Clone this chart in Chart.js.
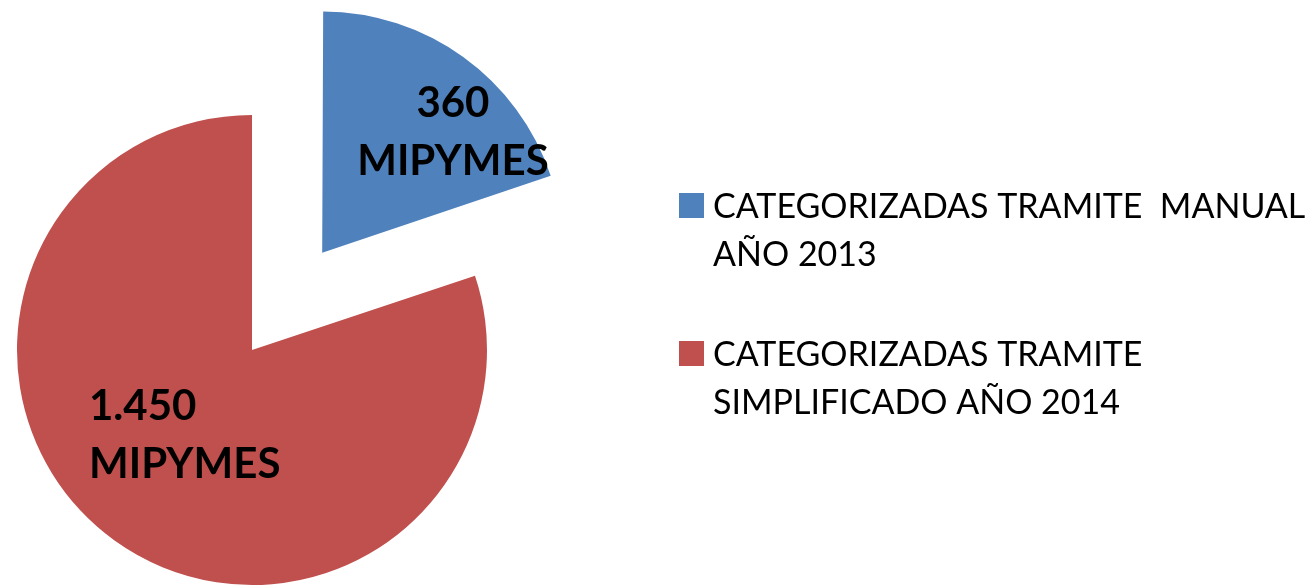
<!DOCTYPE html>
<html>
<head>
<meta charset="utf-8">
<script src="https://cdn.jsdelivr.net/npm/chart.js@4.4.1/dist/chart.umd.min.js"></script>
<style>
  html, body { margin: 0; padding: 0; background: #ffffff; overflow: hidden; width: 1308px; height: 587px; }
  #wrap { position: absolute; left: 0; top: 0; width: 1308px; height: 700px; }
</style>
</head>
<body>
<div id="wrap"><canvas id="c" width="1308" height="700"></canvas></div>
<script>
// ---- data ----
const categories = [
  ["CATEGORIZADAS TRAMITE  MANUAL", "AÑO 2013"],
  ["CATEGORIZADAS TRAMITE", "SIMPLIFICADO AÑO 2014"]
];
const values = [360, 1450];
const unitLabel = "MIPYMES";
const sliceColors = ["#4F81BD", "#C0504D"];

// ---- style / layout ----
const FONT = "Lato, 'Open Sans', sans-serif";
const labelPlacement = [
  { angleDeg: -42.7, distFrac: 0.757, align: "center" },
  { angleDeg: 152.5, distFrac: 0.782, align: "left" }
];

function fmtThousands(v) {
  return String(v).replace(/\B(?=(\d{3})+(?!\d))/g, ".");
}

const dataLabelPlugin = {
  id: "dataLabels",
  afterDatasetsDraw(chart) {
    const ctx = chart.ctx;
    const meta = chart.getDatasetMeta(0);
    const ds = chart.data.datasets[0];
    ctx.save();
    ctx.fillStyle = "#000000";
    ctx.font = "bold 42px " + FONT;
    ctx.textBaseline = "alphabetic";
    meta.data.forEach((arc, i) => {
      const p = arc.getProps(["x", "y", "startAngle", "endAngle", "outerRadius"], true);
      const half = (p.startAngle + p.endAngle) / 2;
      const off = (ds.offset[i] || 0) / 4;
      const cx = p.x + Math.cos(half) * off;
      const cy = p.y + Math.sin(half) * off;
      const pl = labelPlacement[i];
      const a = pl.angleDeg * Math.PI / 180;
      const px = cx + Math.cos(a) * pl.distFrac * p.outerRadius;
      const py = cy + Math.sin(a) * pl.distFrac * p.outerRadius;
      const lines = [fmtThousands(ds.data[i]), unitLabel];
      ctx.textAlign = pl.align;
      ctx.fillText(lines[0], px, py - 15);
      ctx.fillText(lines[1], px, py + 43);
    });
    ctx.restore();
  }
};

const legendPlugin = {
  id: "sideLegend",
  afterDraw(chart) {
    const ctx = chart.ctx;
    const ds = chart.data.datasets[0];
    const x0 = 679, y0 = 193, box = 25, itemGap = 148, lineH = 48, textDx = 34;
    ctx.save();
    ctx.font = "34px " + FONT;
    ctx.textAlign = "left";
    ctx.textBaseline = "alphabetic";
    chart.data.labels.forEach((lab, i) => {
      const top = y0 + i * itemGap;
      ctx.fillStyle = ds.backgroundColor[i];
      ctx.fillRect(x0, top, box, box);
      ctx.fillStyle = "#000000";
      lab.forEach((line, j) => {
        ctx.fillText(line, x0 + textDx, top + box + j * lineH);
      });
    });
    ctx.restore();
  }
};

new Chart(document.getElementById("c"), {
  type: "pie",
  data: {
    labels: categories,
    datasets: [{
      data: values,
      backgroundColor: sliceColors,
      borderWidth: 0,
      offset: [480, 0]
    }]
  },
  options: {
    responsive: false,
    animation: false,
    radius: 235,
    layout: { padding: { left: 0, top: 0, right: 804, bottom: 0 } },
    plugins: {
      legend: { display: false },
      tooltip: { enabled: false }
    }
  },
  plugins: [dataLabelPlugin, legendPlugin]
});
</script>
</body>
</html>
